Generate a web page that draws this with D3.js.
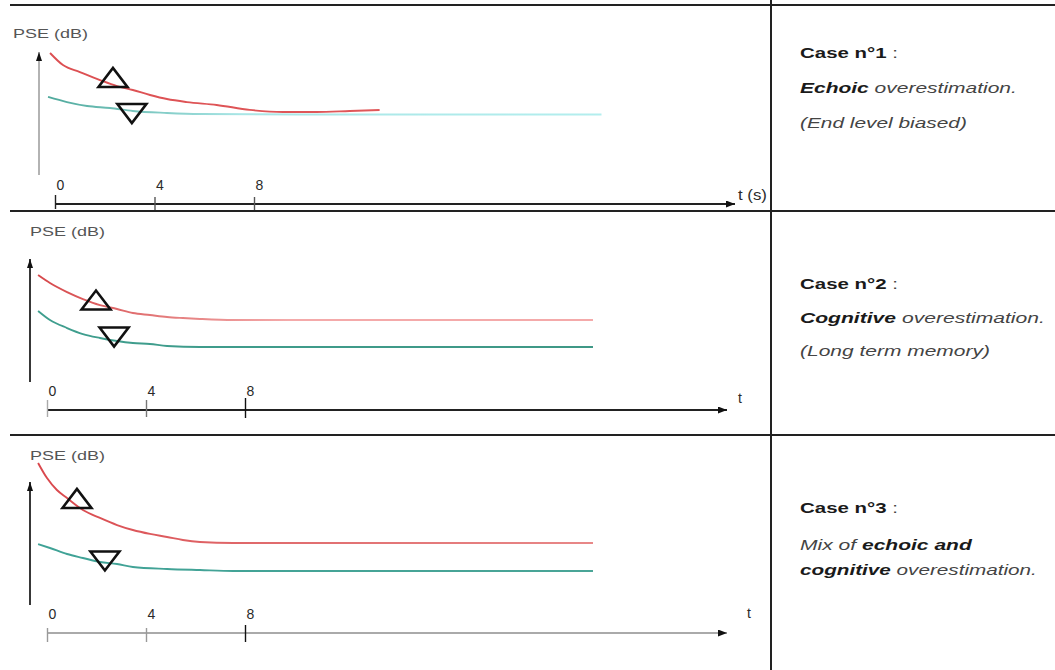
<!DOCTYPE html>
<html>
<head>
<meta charset="utf-8">
<script src="https://cdn.jsdelivr.net/npm/d3@7"></script>
<style>
  html, body { margin: 0; padding: 0; background: #fff; }
  svg { display: block; }
  text { font-family: "Liberation Sans", Arial, sans-serif; }
</style>
</head>
<body>
<svg id="chart" width="1055" height="670"></svg>
<script>
// ---------------- DATA ----------------
const tickValues = [0, 4, 8];
const yLabel = "PSE (dB)";
const xLabels = ["t (s)", "t", "t"];

// [t (s), PSE (arbitrary dB)]
const case1Red  = [[-0.2,10.0],[0.32,9.2],[1.0,8.74],[1.81,8.21],[2.49,7.81],[3.13,7.55],[3.82,7.22],[4.5,6.95],[5.3,6.75],[6.5,6.56],[7.83,6.23],[9.16,6.09],[10.5,6.09],[11.85,6.16],[13.05,6.23]];
const case1Cyan = [[-0.28,7.09],[0.48,6.75],[1.29,6.49],[2.21,6.36],[3.13,6.16],[4.5,6.03],[5.82,5.96],[9.84,5.93],[21.97,5.93]];
const case2Red  = [[-0.36,8.94],[0.12,8.41],[0.81,7.81],[1.45,7.35],[2.14,6.95],[2.83,6.69],[3.47,6.42],[4.16,6.29],[4.85,6.16],[5.49,6.09],[6.18,6.03],[7.52,5.96],[22.06,5.96]];
const case2Cyan = [[-0.36,6.56],[0.12,5.96],[0.81,5.43],[1.45,5.03],[2.14,4.77],[2.83,4.57],[3.47,4.44],[4.16,4.37],[4.85,4.24],[6.18,4.17],[22.06,4.17]];
const case3Red  = [[-0.36,11.26],[0.0,10.26],[0.4,9.47],[0.81,8.94],[1.45,8.15],[2.14,7.62],[2.83,7.15],[3.47,6.82],[4.16,6.56],[4.85,6.36],[5.49,6.16],[6.18,6.03],[7.52,5.96],[22.06,5.96]];
const case3Cyan = [[-0.36,5.89],[0.12,5.63],[0.81,5.23],[1.45,4.97],[2.14,4.70],[2.83,4.57],[3.47,4.37],[4.85,4.24],[6.18,4.17],[7.52,4.11],[22.06,4.11]];

// markers: [t, PSE]
const upMarkers   = [[2.33,8.38],[1.98,7.28],[1.21,8.91]];
const downMarkers = [[3.09,5.99],[2.71,4.83],[2.34,4.77]];

// right-hand descriptions: arrays of [text, weight, style]
const caseTexts = [
  [ [["Case n°1","bold","normal"],[" :","normal","normal"]],
    [["Echoic","bold","italic"],[" overestimation.","normal","italic"]],
    [["(End level biased)","normal","italic"]] ],
  [ [["Case n°2","bold","normal"],[" :","normal","normal"]],
    [["Cognitive","bold","italic"],[" overestimation.","normal","italic"]],
    [["(Long term memory)","normal","italic"]] ],
  [ [["Case n°3","bold","normal"],[" :","normal","normal"]],
    [["Mix of ","normal","italic"],["echoic and","bold","italic"]],
    [["cognitive","bold","italic"],[" overestimation.","normal","italic"]] ]
];

// ---------------- LAYOUT ----------------
const panels = [
  { x0:55, x8:254, axisY:204, axisEnd:735, yAxisX:39, yTop:52,  yBot:175,
    labelX:13, labelY:38, tlX:738, tlY:200, tlW:29,
    red:case1Red, cyan:case1Cyan,
    redStops:[["#dc4f52",0],["#e0585a",1]], cyanStops:[["#4fa99c",0],["#a9e6e6",0.35],["#b3eeee",1]],
    xAxisColor:"#222", yAxisColor:"#8a8a8a", yAxisW:1.3,
    tickColors:["#222","#555","#555"], tickUp:[9,7,7], tickDn:[5,6,6],
    textBase:[58,93,128], textW:[[98],[217],[167]] },
  { x0:47, x8:245, axisY:410, axisEnd:727, yAxisX:30, yTop:259, yBot:382,
    labelX:30, labelY:236, tlX:738, tlY:403, tlW:0,
    red:case2Red, cyan:case2Cyan,
    redStops:[["#d6474a",0],["#e58080",0.25],["#f4aaaa",0.45],["#f4aaaa",1]], cyanStops:[["#3f9e8e",0],["#3f9886",1]],
    xAxisColor:"#222", yAxisColor:"#222", yAxisW:1.8,
    tickColors:["#aaa","#777","#111"], tickUp:[10,10,12], tickDn:[7,7,8],
    textBase:[289,323,356], textW:[[98],[245],[190]] },
  { x0:47, x8:245, axisY:633, axisEnd:727, yAxisX:30, yTop:482, yBot:605,
    labelX:30, labelY:460, tlX:747, tlY:618, tlW:0,
    red:case3Red, cyan:case3Cyan,
    redStops:[["#d9474c",0],["#e06a6c",0.4],["#e88888",1]], cyanStops:[["#3fa296",0],["#4aa597",1]],
    xAxisColor:"#aaa", yAxisColor:"#222", yAxisW:1.8,
    tickColors:["#999","#999","#111"], tickUp:[5,5,8], tickDn:[9,9,9],
    textBase:[513,550,575], textW:[[98],[172],[237]] }
];

const svg = d3.select("#chart");
const defs = svg.append("defs");

function marker(id, w, h, color) {
  defs.append("marker").attr("id", id)
    .attr("viewBox", `0 0 ${w} ${h}`).attr("refX", w).attr("refY", h/2)
    .attr("markerWidth", w).attr("markerHeight", h).attr("markerUnits", "userSpaceOnUse")
    .attr("orient", "auto")
    .append("path").attr("d", `M0,0 L${w},${h/2} L0,${h} Z`).attr("fill", color);
}
marker("arrX", 9, 7, "#111");
marker("arrY", 9, 6, "#111");

function fitText(sel, x, y, targetW) {
  const w = sel.node().getComputedTextLength();
  const s = targetW > 0 ? targetW / w : 1;
  sel.attr("transform", `translate(${x},${y}) scale(${s},1)`);
}

// frame lines
const frame = svg.append("g").attr("stroke", "#222").attr("stroke-width", 2);
[5, 211, 435].forEach(y => frame.append("line").attr("x1", 10).attr("x2", 1055).attr("y1", y).attr("y2", y));
frame.append("line").attr("x1", 771).attr("x2", 771).attr("y1", 0).attr("y2", 670);

panels.forEach((p, i) => {
  const g = svg.append("g");
  const x = d3.scaleLinear().domain([0, 8]).range([p.x0, p.x8]);
  const y = d3.scaleLinear().domain([0, 10]).range([p.axisY, p.axisY - 151]);

  // gradients
  const mkGrad = (id, stops, x1, x2) => {
    const lg = defs.append("linearGradient").attr("id", id)
      .attr("gradientUnits", "userSpaceOnUse").attr("x1", x1).attr("x2", x2).attr("y1", 0).attr("y2", 0);
    stops.forEach(([c, o]) => lg.append("stop").attr("offset", o).attr("stop-color", c));
  };
  const rx = d3.extent(p.red, d => x(d[0])), cx = d3.extent(p.cyan, d => x(d[0]));
  mkGrad("gr" + i, p.redStops, rx[0], rx[1]);
  mkGrad("gc" + i, p.cyanStops, cx[0], cx[1]);

  // y axis
  g.append("line").attr("x1", p.yAxisX).attr("x2", p.yAxisX).attr("y1", p.yBot).attr("y2", p.yTop)
    .attr("stroke", p.yAxisColor).attr("stroke-width", p.yAxisW).attr("marker-end", "url(#arrY)");

  // x axis line with arrow
  g.append("line").attr("x1", x(0)).attr("x2", p.axisEnd).attr("y1", p.axisY).attr("y2", p.axisY)
    .attr("stroke", p.xAxisColor).attr("stroke-width", 1.8).attr("marker-end", "url(#arrX)");

  // ticks via d3 axis
  const ax = g.append("g").attr("transform", `translate(0,${p.axisY})`)
    .call(d3.axisBottom(x).tickValues(tickValues).tickFormat(d3.format("d")).tickSizeOuter(0));
  ax.attr("font-size", 14);
  ax.select(".domain").remove();
  ax.selectAll(".tick line")
    .attr("y1", (d, j) => -p.tickUp[j]).attr("y2", (d, j) => p.tickDn[j])
    .attr("stroke", (d, j) => p.tickColors[j]).attr("stroke-width", 1.4);
  ax.selectAll(".tick text")
    .attr("text-anchor", "start").attr("x", 1).attr("y", -14).attr("dy", 0)
    .attr("fill", "#2a2a2a").attr("font-size", 14)
    .style("font-family", '"Liberation Sans", Arial, sans-serif');

  // labels
  const yl = g.append("text").attr("font-size", 13).attr("fill", "#555").text(yLabel);
  fitText(yl, p.labelX, p.labelY, 75);
  const tl = g.append("text").attr("font-size", 14).attr("fill", "#2a2a2a").text(xLabels[i]);
  fitText(tl, p.tlX, p.tlY, p.tlW);

  // curves
  const line = d3.line().x(d => x(d[0])).y(d => y(d[1])).curve(d3.curveMonotoneX);
  g.append("path").datum(p.cyan).attr("d", line).attr("fill", "none")
    .attr("stroke", `url(#gc${i})`).attr("stroke-width", 1.9);
  g.append("path").datum(p.red).attr("d", line).attr("fill", "none")
    .attr("stroke", `url(#gr${i})`).attr("stroke-width", 1.9);

  // triangles
  const tw = 29, th = 19;
  const up = upMarkers[i], dn = downMarkers[i];
  const ux = x(up[0]), uy = y(up[1]), dx = x(dn[0]), dy = y(dn[1]);
  g.append("path").attr("d", `M${ux - tw/2},${uy + th/2} L${ux},${uy - th/2} L${ux + tw/2},${uy + th/2} Z`)
    .attr("fill", "none").attr("stroke", "#111").attr("stroke-width", 2.6).attr("stroke-linejoin", "miter");
  g.append("path").attr("d", `M${dx - tw/2},${dy - th/2} L${dx},${dy + th/2} L${dx + tw/2},${dy - th/2} Z`)
    .attr("fill", "none").attr("stroke", "#111").attr("stroke-width", 2.6).attr("stroke-linejoin", "miter");

  // right text
  caseTexts[i].forEach((row, r) => {
    const t = svg.append("text").attr("font-size", 14).attr("fill", "#333");
    row.forEach(([s, w, st]) => {
      t.append("tspan").text(s).attr("font-weight", w).attr("font-style", st)
        .attr("fill", w === "bold" ? "#1a1a1a" : "#444");
    });
    fitText(t, 800, p.textBase[r], p.textW[r][0]);
  });
});
</script>
</body>
</html>
